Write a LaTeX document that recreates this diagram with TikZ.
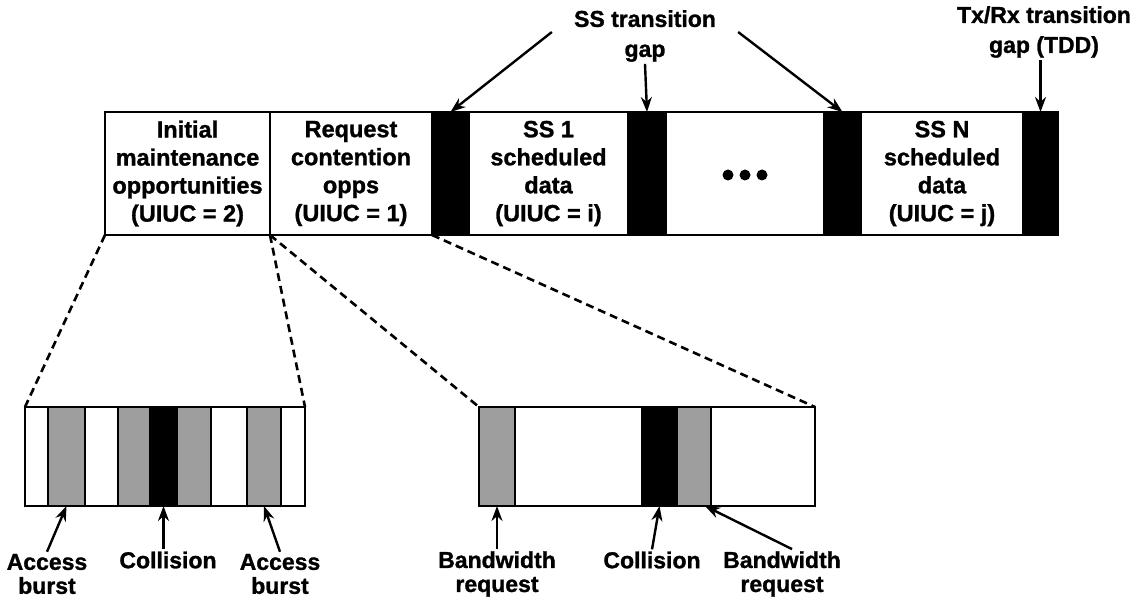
\documentclass[tikz,border=0pt]{standalone}
\usepackage{fontspec}
\setmainfont{Liberation Sans}[BoldFeatures={FakeBold=1.2}]
\usetikzlibrary{arrows.meta}

\begin{document}
\begin{tikzpicture}[x=1pt,y=-1pt,auto,
        slot node/.style={rectangle,draw,line width=2.2pt,minimum height=123pt,inner sep=0pt,outer sep=0pt,
          fill=white,align=center,font=\fontsize{23.5}{28}\selectfont\bfseries},
        gap node/.style={slot node,fill=black},
        frame node/.style={rectangle,draw,line width=2.2pt,minimum height=99pt,inner sep=0pt,outer sep=0pt,fill=white},
        burst node/.style={frame node,line width=1.8pt,fill=black!38},
        hit node/.style={frame node,line width=1.8pt,fill=black},
        note node/.style={align=center,inner sep=2pt,font=\fontsize{23}{30}\selectfont\bfseries},
        tag node/.style={align=center,inner sep=2pt,font=\fontsize{23}{24}\selectfont\bfseries},
        zoom edge/.style={draw=black,line width=2.6pt,dash pattern=on 8pt off 5pt},
        pointer/.style={draw=black,line width=2.4pt,-{Stealth[length=15pt,width=11pt]}}
      ]
      \useasboundingbox (0,0) rectangle (1134,604);

      % uplink subframe
      \node[slot node,minimum width=165pt] (init) at (187.5,173.5) {Initial\\maintenance\\opportunities\\(UIUC = 2)};
      \node[slot node,minimum width=162pt] (req)  at (351,173.5)   {Request\\contention\\opps\\(UIUC = 1)};
      \node[gap node,minimum width=37pt]   (gapA) at (450.5,173.5) {};
      \node[slot node,minimum width=159pt] (ss1)  at (548.5,173.5) {SS 1\\scheduled\\data\\(UIUC = i)};
      \node[gap node,minimum width=38pt]   (gapB) at (647,173.5)   {};
      \node[slot node,minimum width=158pt] (more) at (745,173.5)   {};
      \node[gap node,minimum width=37pt]   (gapC) at (842.5,173.5) {};
      \node[slot node,minimum width=162pt] (ssN)  at (942,173.5)   {SS N\\scheduled\\data\\(UIUC = j)};
      \node[gap node,minimum width=35pt]   (gapD) at (1040.5,173.5) {};
      \foreach \dx in {-17,0,17}
        \fill ([xshift=\dx pt,yshift=-1.5pt]more.center) circle (5.5pt);

      % zoomed contention slots
      \node[frame node,minimum width=280pt] (lbox) at (165,456.5) {};
      \node[burst node,minimum width=37pt] (g1) at (66.5,456.5) {};
      \node[burst node,minimum width=32pt] (g2) at (134,456.5)  {};
      \node[hit node,minimum width=27pt]   (k1) at (163.5,456.5) {};
      \node[burst node,minimum width=34pt] (g3) at (194,456.5)  {};
      \node[burst node,minimum width=34pt] (g4) at (264,456.5)  {};

      \node[frame node,minimum width=336pt] (rbox) at (647,456.5) {};
      \node[burst node,minimum width=36pt] (bg1) at (497,456.5)  {};
      \node[hit node,minimum width=35pt]   (k2)  at (659.5,456.5) {};
      \node[burst node,minimum width=34pt] (bg2) at (694,456.5)  {};

      \path[zoom edge]
        (init.south west) edge (lbox.north west)
        (init.south east) edge (lbox.north east)
        (req.south west)  edge (rbox.north west)
        (req.south east)  edge (rbox.north east);

      % labels
      \node[note node] (ssgap) at (645,36)  {SS transition\\gap};
      \node[note node] (txgap) at (1044,32) {Tx/Rx transition\\gap (TDD)};
      \node[tag node] (acc1) at (47,574)  {Access\\burst};
      \node[tag node] (col1) at (168,560) {Collision};
      \node[tag node] (acc2) at (280,574) {Access\\burst};
      \node[tag node] (bw1)  at (497,574) {Bandwidth\\request};
      \node[tag node] (col2) at (652,560) {Collision};
      \node[tag node] (bw2)  at (782,574) {Bandwidth\\request};

      \draw[pointer] ([xshift=-20pt,yshift=4pt]ssgap.west) -- (gapA.north);
      \draw[pointer] (ssgap.south) -- (gapB.north);
      \draw[pointer] ([xshift=20pt,yshift=4pt]ssgap.east) -- (gapC.north);
      \draw[pointer] (txgap.south -| gapD.north) -- (gapD.north);
      \draw[pointer] (acc1.north) -- (g1.south);
      \draw[pointer] (k1.south |- col1.north) -- (k1.south);
      \draw[pointer] (acc2.north) -- (g4.south);
      \draw[pointer] (bw1.north) -- (bg1.south);
      \draw[pointer] (col2.north) -- (k2.south);
      \draw[pointer] ([xshift=10pt]bw2.north) -- ([xshift=-6pt]bg2.south east);
\end{tikzpicture}
\end{document}
